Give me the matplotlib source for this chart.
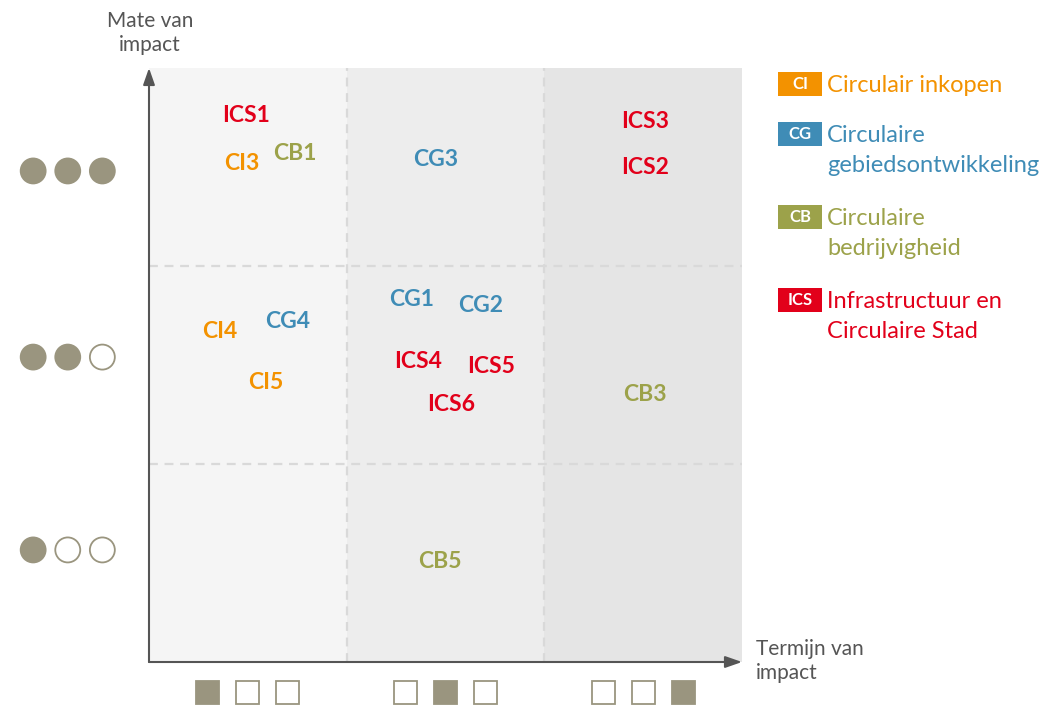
import numpy as np
import matplotlib
matplotlib.use('Agg')
import matplotlib.pyplot as plt
from matplotlib.patches import Rectangle, Circle

plt.rcParams['font.family'] = ['Lato', 'DejaVu Sans']

# data
labels = ['ICS1', 'CI3', 'CB1', 'CG3', 'ICS3', 'ICS2',
          'CG1', 'CG2', 'CI4', 'CG4', 'ICS4', 'ICS5', 'CI5', 'ICS6', 'CB3',
          'CB5']
x_vals = [0.49, 0.47, 0.74, 1.45, 2.51, 2.51,
          1.33, 1.68, 0.36, 0.70, 1.36, 1.73, 0.59, 1.53, 2.51,
          1.47]
y_vals = [2.76, 2.52, 2.57, 2.54, 2.73, 2.50,
          1.83, 1.80, 1.67, 1.72, 1.52, 1.49, 1.41, 1.30, 1.35,
          0.51]
groups = ['CI', 'CG', 'CB', 'ICS']
group_names = ['Circulair inkopen', 'Circulaire\ngebiedsontwikkeling',
               'Circulaire\nbedrijvigheid', 'Infrastructuur en\nCirculaire Stad']
group_colors = {'CI': '#f39200', 'CG': '#3f8cb6', 'CB': '#9ca24a', 'ICS': '#e2001a'}
levels = [1, 2, 3]
level_y = [0.566, 1.54, 2.48]   # where the dot rows sit

col_bg = ['#f5f5f5', '#ededed', '#e5e5e5']
dot_col = '#9a957f'
axis_col = '#555555'

W, H = 1055, 707
fig = plt.figure(figsize=(W / 100, H / 100), dpi=100)
ax = fig.add_axes([149 / W, (H - 662) / H, 593 / W, 594 / H])
ax.set_xlim(0, 3)
ax.set_ylim(0, 3)
ax.axis('off')

for i in range(3):
    ax.axvspan(i, i + 1, color=col_bg[i], lw=0, zorder=0)
for v in [1, 2]:
    ax.axvline(v, color='#d9d9d9', ls=(0, (4, 3)), lw=1.6, zorder=1)
    ax.axhline(v, color='#d9d9d9', ls=(0, (4, 3)), lw=1.6, zorder=1)

# axes arrows
ax.annotate('', xy=(0, 1.0), xytext=(0, 0), xycoords='axes fraction',
            arrowprops=dict(arrowstyle='-|>,head_length=1.0,head_width=0.35',
                            color=axis_col, lw=1.5, shrinkA=0, shrinkB=0))
ax.annotate('', xy=(1.0, 0), xytext=(0, 0), xycoords='axes fraction',
            arrowprops=dict(arrowstyle='-|>,head_length=1.0,head_width=0.35',
                            color=axis_col, lw=1.5, shrinkA=0, shrinkB=0))

# labels
for lab, x, y in zip(labels, x_vals, y_vals):
    g = lab.rstrip('0123456789')
    ax.text(x, y, lab, color=group_colors[g], fontsize=16.5, fontweight='bold',
            ha='center', va='center', zorder=3)

# impact level circles (left) and term squares (bottom)
r = 12.5 / 198
for lv, yc in zip(levels, level_y):
    for k in range(3):
        xc = -0.586 + k * 0.175
        filled = k < lv
        c = Circle((xc, yc), r, transform=ax.transData, clip_on=False,
                   facecolor=dot_col if filled else 'white',
                   edgecolor=dot_col, lw=1.3)
        ax.add_patch(c)
s = 23 / 198
for lv in levels:
    xc0 = lv - 0.5
    for k in range(3):
        xc = xc0 + (k - 1) * 0.202
        filled = (k == lv - 1)
        sq = Rectangle((xc - s / 2, -0.152 - s / 2), s, s, clip_on=False,
                       facecolor=dot_col if filled else 'white',
                       edgecolor=dot_col, lw=1.3)
        ax.add_patch(sq)

# axis titles
fig.text(150 / W, 1 - 33 / H, 'Mate van\nimpact', ha='center', va='center',
         fontsize=15, color=axis_col, linespacing=1.25)
fig.text(756 / W, 1 - 661 / H, 'Termijn van\nimpact', ha='left', va='center',
         fontsize=15, color=axis_col, linespacing=1.25)

# legend
leg_y = [84, 134, 217, 300]
for g, name, yp in zip(groups, group_names, leg_y):
    col = group_colors[g]
    fig.patches.append(Rectangle((778 / W, 1 - (yp + 12) / H), 44 / W, 24 / H,
                                 transform=fig.transFigure, facecolor=col,
                                 edgecolor='none'))
    fig.text(800 / W, 1 - yp / H, g, ha='center', va='center', fontsize=12,
             fontweight='bold', color='white')
    fig.text(827 / W, 1 - (yp - 9) / H, name, ha='left', va='top',
             fontsize=17, color=col, linespacing=1.55)

fig.savefig('out.png', dpi=100)
